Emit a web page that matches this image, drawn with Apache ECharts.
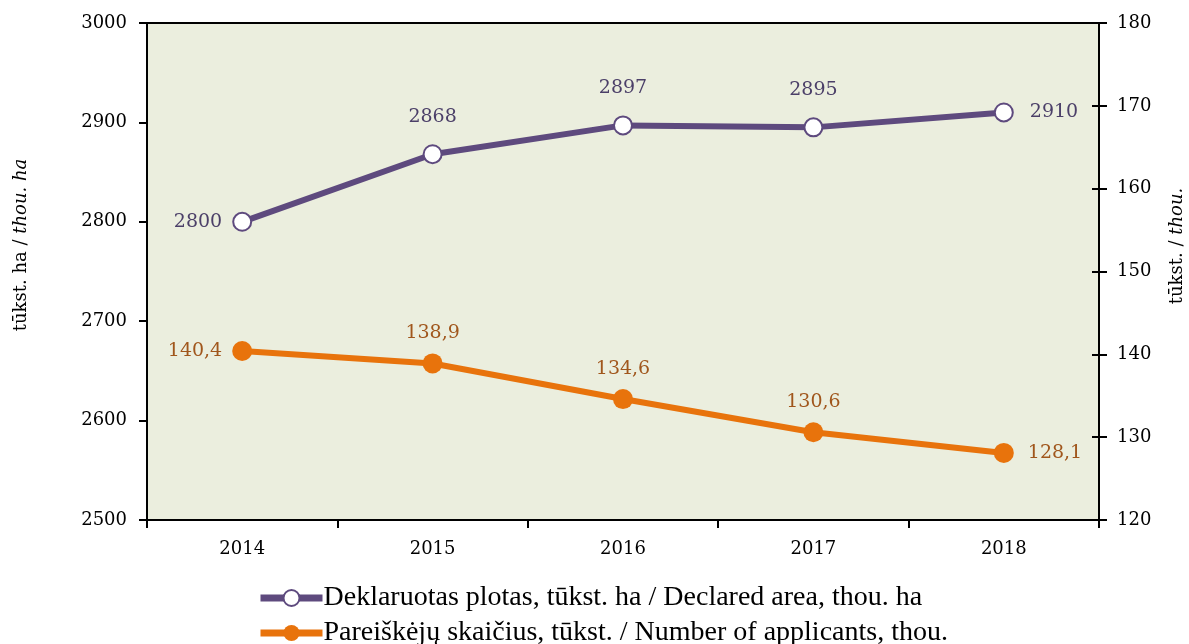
<!DOCTYPE html>
<html>
<head>
<meta charset="utf-8">
<script src="https://cdn.jsdelivr.net/npm/echarts@6/dist/echarts.min.js"></script>
<style>
  html, body { margin: 0; padding: 0; background: #fff; }
  #main { width: 1189px; height: 644px; }
</style>
</head>
<body>
<div id="main"></div>
<script>
const years = ['2014', '2015', '2016', '2017', '2018']
const declaredArea = [2800, 2868, 2897, 2895, 2910]
const applicants = [140.4, 138.9, 134.6, 130.6, 128.1]
const areaName = 'Deklaruotas plotas, tūkst. ha / Declared area, thou. ha'
const applicantsName = 'Pareiškėjų skaičius, tūkst. / Number of applicants, thou.'

const serif = 'DejaVu Serif'
const legendFont = 'Liberation Serif'
const purple = '#5E4A7E'
const orange = '#E8730C'

// label side per point: first left, last right, the rest on top
function labelPos(i) {
  if (i === 0) return 'left'
  if (i === years.length - 1) return 'right'
  return 'top'
}

function legendRow(name, top) {
  return {
    orient: 'horizontal',
    left: 257,
    top: top,
    padding: 0,
    itemWidth: 62,
    itemHeight: 20,
    lineStyle: { width: 7 },
    textStyle: { fontFamily: legendFont, fontSize: 28, color: '#000', padding: [0, 0, 0, -4] },
    data: [name]
  }
}

// rotated axis title built from a plain and an italic part
function axisTitle(x, y, plain, italic) {
  return {
    type: 'text',
    x: x, y: y,
    rotation: Math.PI / 2,
    style: {
      text: '{a|' + plain + '}{b|' + italic + '}',
      align: 'center',
      verticalAlign: 'middle',
      rich: {
        a: { fontFamily: serif, fontSize: 18, fill: '#000' },
        b: { fontFamily: serif, fontSize: 18, fill: '#000', fontStyle: 'italic' }
      }
    }
  }
}

const myChart = echarts.init(document.getElementById('main'))
myChart.setOption({
  animation: false,
  textStyle: { fontFamily: serif },
  grid: {
    left: 147, right: 90, top: 23, bottom: 124,
    outerBoundsMode: 'none',
    show: true,
    backgroundColor: '#EBEEDE',
    borderColor: '#000',
    borderWidth: 2
  },
  graphic: [
    axisTitle(21, 245, 'tūkst. ha / ', 'thou. ha'),
    axisTitle(1177, 246, 'tūkst. / ', 'thou.')
  ],
  legend: [legendRow(areaName, 584), legendRow(applicantsName, 619)],
  xAxis: {
    type: 'category',
    data: years,
    boundaryGap: true,
    axisLine: { lineStyle: { color: '#000', width: 2 } },
    axisTick: { show: true, length: 8, lineStyle: { color: '#000', width: 2 } },
    axisLabel: { color: '#000', fontSize: 18, margin: 20, fontFamily: serif }
  },
  yAxis: [
    {
      type: 'value',
      min: 2500, max: 3000, interval: 100,
      position: 'left',
      splitLine: { show: false },
      axisLine: { show: true, lineStyle: { color: '#000', width: 2 } },
      axisTick: { show: true, length: 8, lineStyle: { color: '#000', width: 2 } },
      axisLabel: { color: '#000', fontSize: 18, margin: 20, fontFamily: serif, formatter: v => String(v) }
    },
    {
      type: 'value',
      min: 120, max: 180, interval: 10,
      position: 'right',
      splitLine: { show: false },
      axisLine: { show: true, lineStyle: { color: '#000', width: 2 } },
      axisTick: { show: true, length: 8, lineStyle: { color: '#000', width: 2 } },
      axisLabel: { color: '#000', fontSize: 18, margin: 18, fontFamily: serif }
    },
    {
      // inner half of the right-hand ticks
      type: 'value',
      min: 120, max: 180, interval: 10,
      position: 'right',
      splitLine: { show: false },
      axisLine: { show: false },
      axisTick: { show: true, inside: true, length: 7, lineStyle: { color: '#000', width: 2 } },
      axisLabel: { show: false }
    }
  ],
  series: [
    {
      name: areaName,
      type: 'line',
      yAxisIndex: 0,
      data: declaredArea.map((v, i) => ({ value: v, label: { position: labelPos(i), distance: i === 0 ? 10 : (i === years.length - 1 ? 16 : 18) } })),
      symbol: 'circle',
      symbolSize: 18,
      lineStyle: { color: purple, width: 6 },
      itemStyle: { color: '#fff', borderColor: purple, borderWidth: 2 },
      label: { show: true, color: '#4B3F68', fontSize: 19, fontFamily: serif },
      z: 3
    },
    {
      name: applicantsName,
      type: 'line',
      yAxisIndex: 1,
      data: applicants.map((v, i) => ({ value: v, label: { position: labelPos(i), distance: i === 0 ? 10 : (i === years.length - 1 ? 14 : 11) } })),
      symbol: 'circle',
      symbolSize: 20,
      lineStyle: { color: orange, width: 6 },
      itemStyle: { color: orange, borderColor: orange, borderWidth: 0 },
      label: {
        show: true, color: '#A0561C', fontSize: 19, fontFamily: serif,
        formatter: p => String(p.value).replace('.', ',')
      },
      z: 2
    }
  ]
})
window.addEventListener('resize', () => { myChart.resize() })
</script>
</body>
</html>
